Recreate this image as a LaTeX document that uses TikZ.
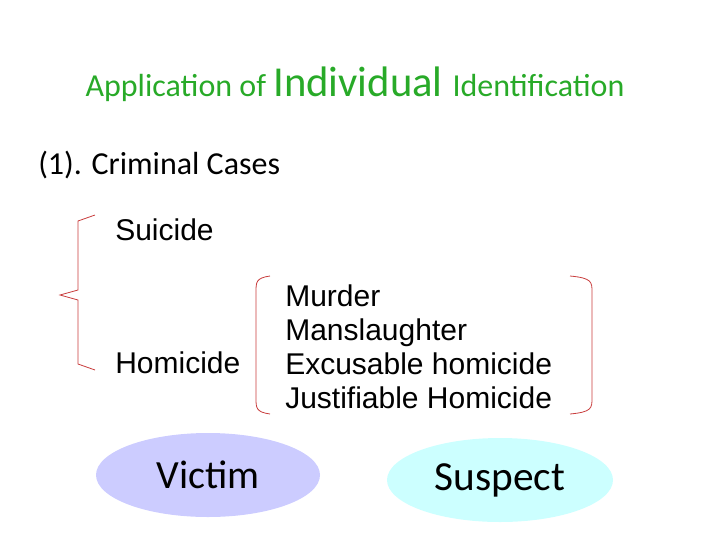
\documentclass[tikz,border=0pt]{standalone}
\usepackage{fontspec}
\setmainfont{Carlito}
\newfontfamily\arial{Liberation Sans}
\definecolor{ttl}{RGB}{40,170,40}
\definecolor{brk}{RGB}{200,60,60}
\definecolor{vic}{RGB}{204,204,255}
\definecolor{sus}{RGB}{204,255,255}
\begin{document}
\begin{tikzpicture}[x=0.75pt,y=-0.75pt,
  lbl/.style={anchor=west,font=\arial\fontsize{22.5}{26}\selectfont,inner sep=0},
  brace/.style={draw=brk,line width=0.6pt}]
\useasboundingbox (0,0) rectangle (720,540);
\node[font=\fontsize{24}{28}\selectfont,text=ttl] (t) at (355,84) {Application of \fontsize{32}{36}\selectfont Individual \fontsize{24}{28}\selectfont Identification};
\node[anchor=west,font=\fontsize{24}{28}\selectfont,inner sep=0] (c) at (38,165) {(1). Criminal Cases};
\node[lbl] (s) at (115,230) {Suicide};
\node[lbl] (h) at (115,363) {Homicide};
\node[lbl,align=left,anchor=west,font=\arial\fontsize{22.5}{25.5}\selectfont] (l) at (285,347) {Murder\\Manslaughter\\Excusable homicide\\Justifiable Homicide};
\draw[brace] (95,215) -- (78,221) -- (78,290) -- (60,295) -- (78,300) -- (78,364) -- (95,370);
\draw[brace] (270,276) .. controls (256,278) and (256,282) .. (256,292) -- (256,398) .. controls (256,408) and (256,412) .. (270,414);
\draw[brace] (570,276) .. controls (592,278) and (592,282) .. (592,292) -- (592,398) .. controls (592,408) and (592,412) .. (570,414);
\fill[vic] (208,475) ellipse (112 and 42);
\fill[sus] (500,480) ellipse (113 and 42);
\node[font=\fontsize{30}{34}\selectfont] (v) at (208,475) {Victim};
\node[font=\fontsize{31}{35}\selectfont] (p) at (500,480) {Suspect};
\end{tikzpicture}
\end{document}
